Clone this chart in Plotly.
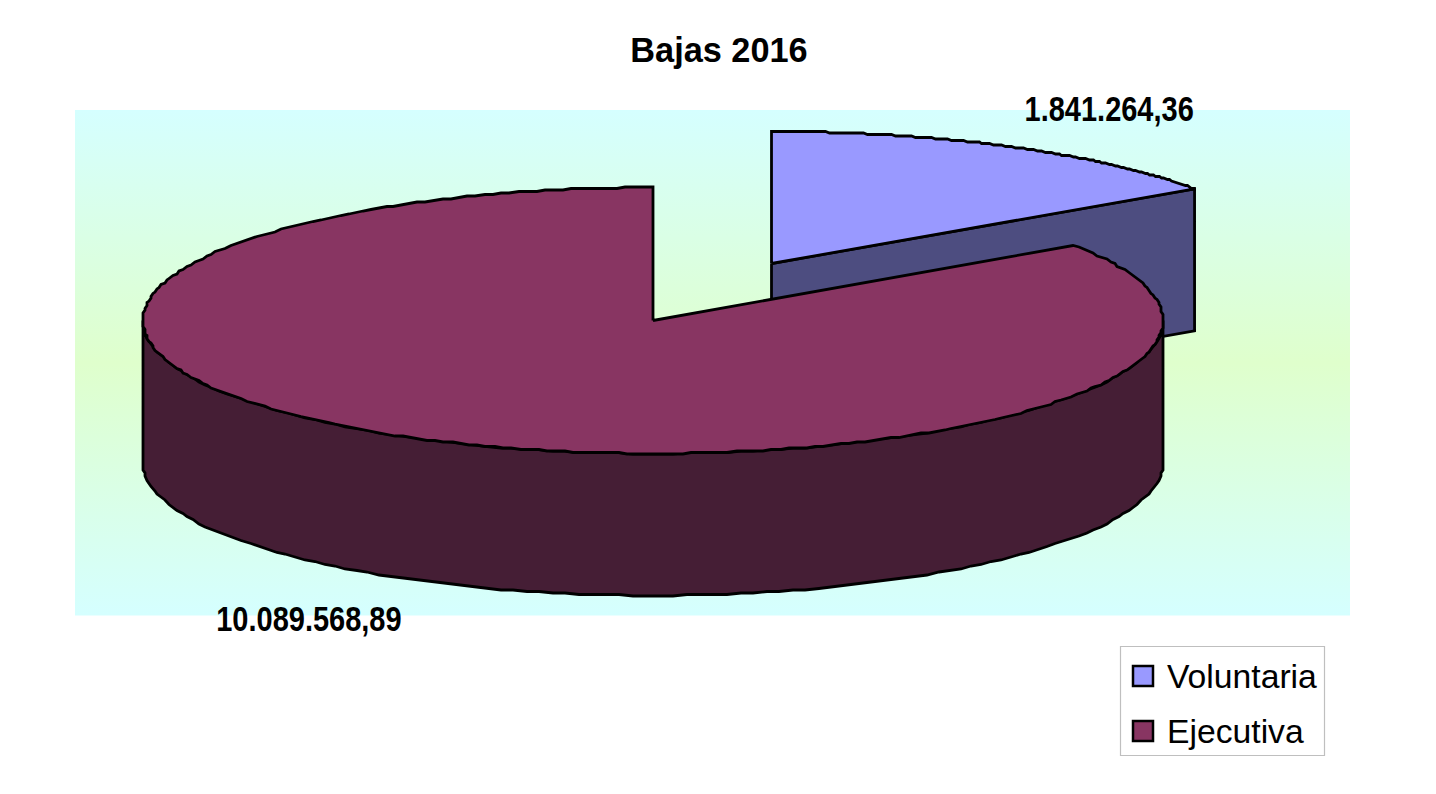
import numpy as np
import plotly.graph_objects as go

# ---- data ----
categories = ["Voluntaria", "Ejecutiva"]
values = [1841264.36, 10089568.89]
value_labels = ["1.841.264,36", "10.089.568,89"]
chart_title = "Bajas 2016"

# ---- colours ----
top_colors = ["#9999FF", "#883562"]
side_colors = ["#4D4D80", "#451E35"]
edge = "#000000"
FONT = "Liberation Sans"

# ---- projection of the tilted pie onto the canvas ----
DEPTH = 142
VOL = dict(cx=771.5, cy=263.5, rx=513, ry=132)
EJE = dict(cx=653, cy=320.5, rx=510, ry=133)
GRID_X = 2.0  # the reference outline is visibly quantised
GRID_Y = 1.5


def rim(p, a0, a1, dy=0, n=120):
    a = np.linspace(a0, a1, n)
    x = p["rx"] * np.sin(a)
    y = -p["ry"] * np.cos(a)
    return p["cx"] + np.round(x / GRID_X) * GRID_X, p["cy"] + dy + np.round(y / GRID_Y) * GRID_Y


split = 2 * np.pi * values[0] / sum(values)

fig = go.Figure()


def poly(xs, ys, fill, name, lw=2.8):
    fig.add_trace(go.Scatter(x=list(xs), y=list(ys), mode="lines", fill="toself",
                             fillcolor=fill, line=dict(color=edge, width=lw),
                             name=name, showlegend=False, hoverinfo="name"))


# background panel with vertical gradient
fig.add_trace(go.Scatter(
    x=[75, 1350, 1350, 75, 75], y=[110, 110, 615.5, 615.5, 110], mode="lines",
    line=dict(width=0), fill="toself", hoverinfo="skip", showlegend=False,
    fillgradient=dict(type="vertical", colorscale=[[0, "#D5FFFF"], [0.5, "#DFFFCC"], [1, "#D5FFFF"]]),
))

# Voluntaria: cut wall then top
ex, ey = VOL["cx"] + VOL["rx"] * np.sin(split), VOL["cy"] - VOL["ry"] * np.cos(split)
poly([VOL["cx"], ex, ex, VOL["cx"], VOL["cx"]],
     [VOL["cy"], ey, ey + DEPTH, VOL["cy"] + DEPTH, VOL["cy"]], side_colors[0], categories[0])
x, y = rim(VOL, 0, split)
poly(np.r_[VOL["cx"], x, ex, VOL["cx"]], np.r_[VOL["cy"], y, ey, VOL["cy"]], top_colors[0], categories[0])

# Ejecutiva: outer wall then top
tx, ty = rim(EJE, np.pi / 2, 3 * np.pi / 2)
bx, by = rim(EJE, 3 * np.pi / 2, np.pi / 2, dy=DEPTH)
poly(np.r_[tx, bx, tx[0]], np.r_[ty, by, ty[0]], side_colors[1], categories[1])
x, y = rim(EJE, split, 2 * np.pi, n=300)
poly(np.r_[EJE["cx"], x, EJE["cx"]], np.r_[EJE["cy"], y, EJE["cy"]], top_colors[1], categories[1])

# legend swatches
LEG_Y = [676, 731]
fig.add_trace(go.Scatter(
    x=[1143, 1143], y=LEG_Y, mode="markers", hoverinfo="skip", showlegend=False,
    marker=dict(symbol="square", size=20, color=top_colors, line=dict(color=edge, width=2.5)),
))

bold = dict(family=FONT, size=35, color="black", weight=700)
plain = dict(family=FONT, size=33.7, color="black")
annotations = [
    dict(x=1108.5, y=108, text=value_labels[0], font=bold),
    dict(x=308.5, y=618, text=value_labels[1], font=bold),
    dict(x=1164.5, y=LEG_Y[0], text=categories[0], xanchor="left", font=plain),
    dict(x=1164.5, y=LEG_Y[1], text=categories[1], xanchor="left", font=plain),
]
for a in annotations:
    a.update(xref="x", yref="y", showarrow=False, yanchor="middle")
    a.setdefault("xanchor", "center")

fig.update_layout(
    width=1436, height=794, margin=dict(l=0, r=0, t=0, b=0),
    paper_bgcolor="white", plot_bgcolor="white", showlegend=False,
    title=dict(text="<b>" + chart_title + "</b>", x=719 / 1436, xanchor="center", y=1 - 50 / 794,
               yanchor="middle", font=dict(family=FONT, size=34.3, color="black")),
    xaxis=dict(range=[0, 1436], visible=False, fixedrange=True),
    yaxis=dict(range=[794, 0], visible=False, fixedrange=True),
    annotations=annotations,
    shapes=[dict(type="rect", xref="x", yref="y", x0=1120.5, x1=1324.5, y0=646.5, y1=755.5,
                 line=dict(color="#BFBFBF", width=1.2), fillcolor="white", layer="below")],
)

# the value labels are a condensed bold face: narrow the real text horizontally
post = """
document.body.style.margin='0';document.body.style.overflow='hidden';
document.querySelectorAll('text.annotation-text').forEach(function(t){
  if(/^[0-9.,]+$/.test(t.textContent)){
    t.setAttribute('textLength', (t.getComputedTextLength()*0.828).toFixed(1));
    t.setAttribute('lengthAdjust','spacingAndGlyphs');
  }
});
"""
fig.write_html("out.html", config=dict(displayModeBar=False), post_script=post)
